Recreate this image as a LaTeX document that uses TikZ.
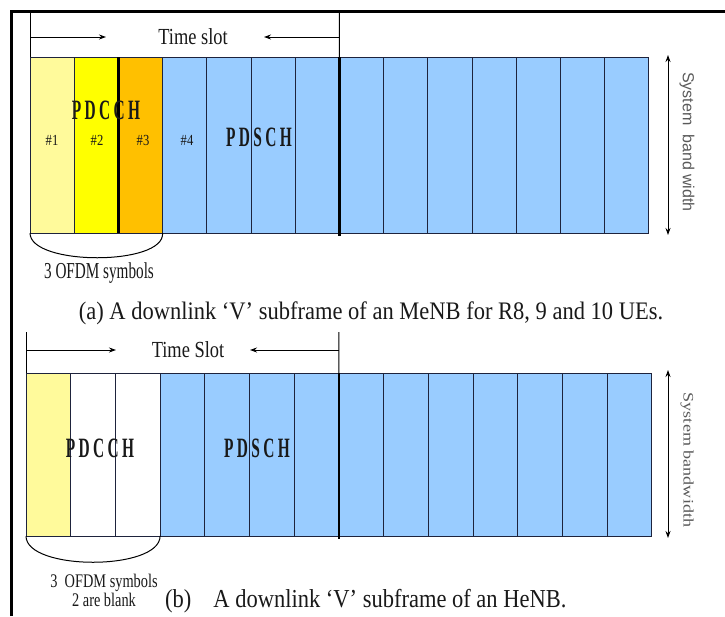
\documentclass[tikz,border=0pt]{standalone}
\usepackage{fontspec}
\setmainfont{Liberation Serif}
\newfontfamily\sansf{Liberation Sans}
\usetikzlibrary{arrows.meta}
\definecolor{ly}{RGB}{255,250,155}
\definecolor{yy}{RGB}{255,255,0}
\definecolor{oo}{RGB}{255,192,0}
\definecolor{bb}{RGB}{153,204,255}
\definecolor{gl}{RGB}{30,35,60}
\definecolor{tx}{RGB}{25,25,25}
\definecolor{gt}{RGB}{90,90,90}
\begin{document}
\begin{tikzpicture}[x=1pt,y=-1pt,
  cellA/.style={draw=gl, line width=0.9pt, minimum width=44.2pt, minimum height=176pt, inner sep=0pt, outer sep=0pt},
  cellB/.style={draw=gl, line width=0.9pt, minimum width=44.7pt, minimum height=163pt, inner sep=0pt, outer sep=0pt},
  thinline/.style={line width=0.9pt, draw=black},
  arr/.style={line width=0.9pt, -{Stealth[length=7pt,width=5pt]}},
  darr/.style={line width=0.9pt, {Stealth[length=7pt,width=5pt]}-{Stealth[length=7pt,width=5pt]}},
  sepline/.style={line width=2.8pt, draw=black},
  chan/.style={inner sep=0pt, text=tx, font=\fontsize{28}{30}\selectfont\bfseries\addfontfeature{LetterSpace=22}},
  num/.style={inner sep=0pt, text=tx, font=\fontsize{14}{16}\selectfont},
  lbl/.style={inner sep=0pt, text=tx, font=\fontsize{20}{22}\selectfont},
  captxt/.style={inner sep=0pt, text=tx, font=\fontsize{22.5}{26}\selectfont},
  bw/.style={inner sep=0pt, text=gt, rotate=-90},
]
\useasboundingbox (0,0) rectangle (725,616);
\fill[white] (0,0) rectangle (725,616);
% frame
\draw[line width=3pt] (11,616) -- (11,11) -- (725,11);

% ---------------- panel (a) ----------------
\foreach \i/\c in {1/ly,2/yy,3/oo,4/bb,5/bb,6/bb,7/bb,8/bb,9/bb,10/bb,11/bb,12/bb,13/bb,14/bb}
  \node[cellA, fill=\c] (a\i) at ({30+44.2*(\i-0.5)},145) {};
\draw[sepline] (a2.north east) -- (a2.south east);
\draw[sepline] (a7.north east) -- ([yshift=-3pt]a7.south east);
% time slot bracket
\coordinate (atl) at (30,11.5);
\coordinate (atr) at (339.4,11.5);
\draw[thinline] (a1.north west) -- (atl);
\draw[thinline] (a7.north east) -- (atr);
\node[lbl] (tsa) at (193,37) {\scalebox{0.92}[1.15]{Time slot}};
\coordinate (atal) at (30,37);
\coordinate (atar) at (339.4,37);
\coordinate (atal2) at (106,37);
\coordinate (atar2) at (264,37);
\draw[arr] (atal) -- (atal2);
\draw[arr] (atar) -- (atar2);
% labels
\node[chan] (pdcch) at (106,110) {\scalebox{0.55}[1]{PDCCH}};
\node[chan] (pdsch) at (259,137) {\scalebox{0.55}[1]{PDSCH}};
\node[num] (n1) at (52,140) {\scalebox{0.9}[1.1]{\#1}};
\node[num] (n2) at (97,140) {\scalebox{0.9}[1.1]{\#2}};
\node[num] (n3) at (143,140) {\scalebox{0.9}[1.1]{\#3}};
\node[num] (n4) at (187,140) {\scalebox{0.9}[1.1]{\#4}};
% brace
\draw[line width=1pt] (a1.south west) .. controls (30,266) and (165,266) .. (a3.south east);
\node[lbl] (ofa) at (99,273) {\scalebox{0.8}[1.2]{\fontsize{19}{20}\selectfont 3 OFDM symbols}};
% bandwidth
\coordinate (bwa1) at (668,55);
\coordinate (bwa2) at (668,235);
\draw[darr] (bwa1) -- (bwa2);
\node[bw] (bwat) at (687,142) {\sansf\fontsize{16}{18}\selectfont System\ \ band width};
% caption
\node[captxt] (capa) at (371,313) {\scalebox{1}[1.12]{(a) A downlink ‘V’ subframe of an MeNB for R8, 9 and 10 UEs.}};

% ---------------- panel (b) ----------------
\foreach \i/\c in {1/ly,2/white,3/white,4/bb,5/bb,6/bb,7/bb,8/bb,9/bb,10/bb,11/bb,12/bb,13/bb,14/bb}
  \node[cellB, fill=\c] (b\i) at ({26+44.7*(\i-0.5)},454.5) {};
\draw[sepline] (b7.north east) -- ([yshift=-3pt]b7.south east);
\coordinate (btl) at (26,332);
\coordinate (btr) at (338.9,332);
\draw[thinline] (b1.north west) -- (btl);
\draw[thinline] (b7.north east) -- (btr);
\node[lbl] (tsb) at (188,350) {\scalebox{0.92}[1.15]{Time Slot}};
\coordinate (btal) at (26,350);
\coordinate (btar) at (338.9,350);
\coordinate (btal2) at (116,350);
\coordinate (btar2) at (250,350);
\draw[arr] (btal) -- (btal2);
\draw[arr] (btar) -- (btar2);
\node[chan] (pdcchb) at (100,448) {\scalebox{0.55}[1]{PDCCH}};
\node[chan] (pdschb) at (257,448) {\scalebox{0.55}[1]{PDSCH}};
\draw[line width=1pt] (b1.south west) .. controls (26,571) and (160,571) .. (b3.south east);
\node[lbl, align=center] (ofb) at (104,590) {\scalebox{0.82}[1.1]{\fontsize{17.5}{21}\selectfont 3\ \ OFDM symbols}\\[-3pt]\scalebox{0.82}[1.1]{\fontsize{17.5}{21}\selectfont 2 are blank}};
\coordinate (bwb1) at (668,370);
\coordinate (bwb2) at (668,538);
\draw[darr] (bwb1) -- (bwb2);
\node[bw] (bwbt) at (687,460) {\scalebox{1.25}[1]{\fontsize{14.5}{16}\selectfont System bandwidth}};
\node[captxt, anchor=west] (capb) at (165,601) {\scalebox{1}[1.15]{(b)\hspace{22pt}A downlink ‘V’ subframe of an HeNB.}};
\end{tikzpicture}
\end{document}
